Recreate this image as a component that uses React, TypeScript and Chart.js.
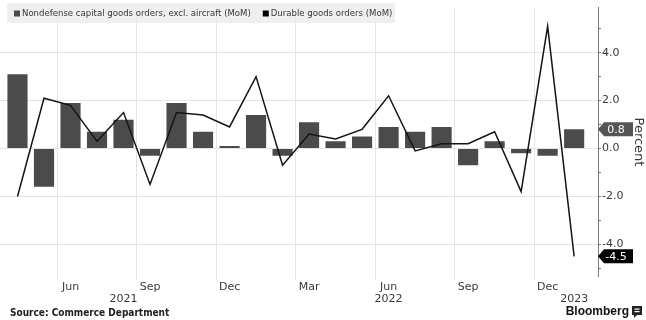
import React, { useEffect, useRef } from 'react';
import { Chart, registerables } from 'chart.js';

Chart.register(...registerables);

// ---- Data ----
const monthLabels = ['Apr', 'May', 'Jun', 'Jul', 'Aug', 'Sep', 'Oct', 'Nov', 'Dec', 'Jan', 'Feb', 'Mar', 'Apr', 'May', 'Jun', 'Jul', 'Aug', 'Sep', 'Oct', 'Nov', 'Dec', 'Jan'];
const quarterTickIndices = [2, 5, 8, 11, 14, 17, 20];
const yearLabels = ['2021', '2022', '2023'];
const yearLabelIndices = [4, 14, 21];
const coreCapitalGoods = [3.1, -1.6, 1.9, 0.7, 1.2, -0.3, 1.9, 0.7, 0.1, 1.4, -0.3, 1.1, 0.3, 0.5, 0.9, 0.7, 0.9, -0.7, 0.3, -0.2, -0.3, 0.8];
const durableGoods = [-2.0, 2.1, 1.8, 0.3, 1.5, -1.5, 1.5, 1.4, 0.9, 3.0, -0.7, 0.6, 0.4, 0.8, 2.2, -0.1, 0.2, 0.2, 0.7, -1.8, 5.1, -4.5];
const yTickValues = [-5, -4, -3, -2, -1, 0, 1, 2, 3, 4, 5];
const yLabelledTicks = [-4, -2, 0, 2, 4];
const seriesNames = ['Nondefense capital goods orders, excl. aircraft (MoM)', 'Durable goods orders (MoM)'];
const sourceText = 'Source: Commerce Department';
const brandText = 'Bloomberg';
const axisTitle = 'Percent';

const BAR_COLOR = '#4b4b4b';
const LINE_COLOR = '#141414';
const GRID_COLOR = '#e4e4e4';
const TEXT_COLOR = '#383838';

const overlayPlugin = {
  id: 'overlay',
  afterDraw(chart: any) {
    const ctx = chart.ctx as CanvasRenderingContext2D;
    const xs = chart.scales.x;
    const ys = chart.scales.y;
    ctx.save();

    // Legend box (over the plot)
    ctx.fillStyle = 'rgba(236,236,236,0.85)';
    ctx.fillRect(7, 3, 388, 20);
    ctx.font = '9.5px "DejaVu Sans Condensed", "DejaVu Sans"';
    ctx.textBaseline = 'middle';
    ctx.textAlign = 'left';
    let lx = 14;
    const markerColors = [BAR_COLOR, '#000000'];
    seriesNames.forEach((name, i) => {
      ctx.fillStyle = markerColors[i];
      ctx.fillRect(lx, 10.5, 6, 6);
      ctx.fillStyle = TEXT_COLOR;
      ctx.fillText(name, lx + 8, 14);
      lx += 8 + ctx.measureText(name).width + 12;
    });

    // Year labels
    ctx.font = '11px "DejaVu Sans"';
    ctx.fillStyle = TEXT_COLOR;
    ctx.textAlign = 'center';
    yearLabels.forEach((t, i) => {
      ctx.fillText(t, xs.getPixelForValue(yearLabelIndices[i]), 299);
    });

    // Axis title
    ctx.save();
    ctx.translate(638, 142);
    ctx.rotate(Math.PI / 2);
    ctx.font = '13px "DejaVu Sans"';
    ctx.fillStyle = TEXT_COLOR;
    ctx.textAlign = 'center';
    ctx.textBaseline = 'middle';
    ctx.fillText(axisTitle, 0, 0);
    ctx.restore();

    // Last value badges
    const x0 = ys.left;
    const badge = (value: number, color: string) => {
      const yp = ys.getPixelForValue(value);
      ctx.beginPath();
      ctx.moveTo(x0, yp);
      ctx.lineTo(x0 + 6, yp - 7);
      ctx.lineTo(x0 + 35, yp - 7);
      ctx.lineTo(x0 + 35, yp + 7);
      ctx.lineTo(x0 + 6, yp + 7);
      ctx.closePath();
      ctx.fillStyle = color;
      ctx.fill();
      ctx.fillStyle = '#ffffff';
      ctx.font = '11px "DejaVu Sans"';
      ctx.textAlign = 'center';
      ctx.textBaseline = 'middle';
      ctx.fillText(value.toFixed(1), x0 + 18, yp + 0.5);
    };
    badge(coreCapitalGoods[coreCapitalGoods.length - 1], '#555555');
    badge(durableGoods[durableGoods.length - 1], '#000000');

    // Source
    ctx.font = 'bold 10px "DejaVu Sans Condensed", "DejaVu Sans"';
    ctx.fillStyle = '#222';
    ctx.textAlign = 'left';
    ctx.textBaseline = 'middle';
    ctx.fillText(sourceText, 10, 313);

    // Brand
    ctx.font = 'bold 12px "Liberation Sans"';
    ctx.textAlign = 'right';
    ctx.fillStyle = '#111';
    ctx.fillText(brandText, 629, 312);
    ctx.fillStyle = '#222';
    ctx.fillRect(632, 306, 10, 9);
    ctx.beginPath();
    ctx.moveTo(634, 315);
    ctx.lineTo(634, 318);
    ctx.lineTo(637, 315);
    ctx.closePath();
    ctx.fill();
    ctx.fillStyle = '#fff';
    ctx.fillRect(634.5, 308.5, 5, 1.2);
    ctx.fillRect(634.5, 311, 5, 1.2);

    ctx.restore();
  },
};

export default function App() {
  const canvasRef = useRef<HTMLCanvasElement | null>(null);

  useEffect(() => {
    document.body.style.margin = '0';
    const canvas = canvasRef.current;
    if (!canvas) return;

    const chart = new Chart(canvas, {
      type: 'bar',
      data: {
        datasets: [
          {
            type: 'line',
            label: seriesNames[1],
            data: durableGoods.map((v, i) => ({ x: i, y: v })),
            borderColor: LINE_COLOR,
            borderWidth: 1.5,
            pointRadius: 0,
            tension: 0,
            order: 0,
          } as any,
          {
            type: 'bar',
            label: seriesNames[0],
            data: coreCapitalGoods.map((v, i) => ({ x: i, y: v })),
            backgroundColor: BAR_COLOR,
            borderWidth: 0,
            barPercentage: 0.76,
            categoryPercentage: 1,
            order: 1,
          } as any,
        ],
      },
      options: {
        animation: false,
        responsive: false,
        devicePixelRatio: 1,
        layout: { padding: { top: 5, left: 0, right: 0, bottom: 0 } },
        plugins: {
          legend: { display: false },
          tooltip: { enabled: false },
        },
        scales: {
          x: {
            type: 'linear',
            min: -0.66,
            max: 21.9,
            offset: false,
            afterBuildTicks: (scale: any) => {
              scale.ticks = monthLabels.map((_, i) => ({ value: i }));
            },
            afterFit: (scale: any) => {
              scale.height = 44;
            },
            border: { display: false },
            grid: {
              color: (c: any) => (quarterTickIndices.includes(c.tick?.value) ? GRID_COLOR : 'rgba(0,0,0,0)'),
              tickColor: (c: any) => (quarterTickIndices.includes(c.tick?.value) ? GRID_COLOR : 'rgba(0,0,0,0)'),
              tickLength: 4,
              lineWidth: 1,
            },
            ticks: {
              autoSkip: false,
              maxRotation: 0,
              minRotation: 0,
              padding: 1,
              color: TEXT_COLOR,
              font: { family: '"DejaVu Sans"', size: 11 },
              callback: (value: any) => (quarterTickIndices.includes(value) ? monthLabels[value] : ''),
            },
          },
          y: {
            type: 'linear',
            position: 'right',
            min: -5.32,
            max: 5.88,
            afterBuildTicks: (scale: any) => {
              scale.ticks = yTickValues.map((v) => ({ value: v }));
            },
            afterFit: (scale: any) => {
              scale.width = 48;
            },
            border: { display: true, color: '#7a7a7a', width: 1 },
            grid: {
              color: (c: any) => (yLabelledTicks.includes(c.tick?.value) ? GRID_COLOR : 'rgba(0,0,0,0)'),
              tickColor: '#7a7a7a',
              tickLength: 3,
            },
            ticks: {
              padding: 1,
              color: TEXT_COLOR,
              font: { family: '"DejaVu Sans"', size: 11 },
              callback: (value: any) => (yLabelledTicks.includes(value) ? Number(value).toFixed(1) : ''),
            },
          },
        },
      },
      plugins: [overlayPlugin],
    } as any);

    return () => chart.destroy();
  }, []);

  return (
    <div style={{ width: 646, height: 320, position: 'relative' }}>
      <canvas ref={canvasRef} width={646} height={320} style={{ display: 'block' }} />
    </div>
  );
}
